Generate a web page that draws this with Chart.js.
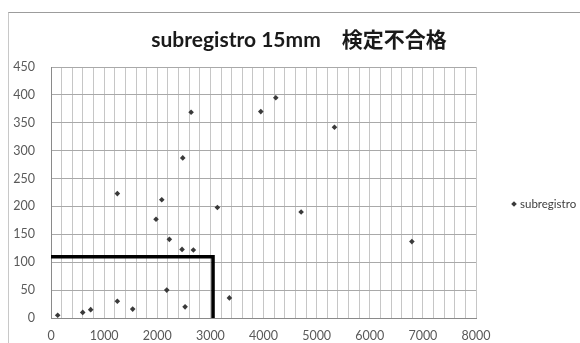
<!DOCTYPE html>
<html>
<head>
<meta charset="utf-8">
<script src="https://cdn.jsdelivr.net/npm/chart.js@4/dist/chart.umd.min.js"></script>
<style>
  html, body { margin: 0; padding: 0; background: #ffffff; }
  #wrap { position: relative; width: 580px; height: 343px; overflow: hidden; }
  #frame { position: absolute; left: 8px; top: 12px; width: 640px; height: 420px;
           border-top: 1px solid #9c9c9c; border-left: 1px solid #c8c8c8; }
  canvas { position: absolute; left: 0; top: 0; }
</style>
</head>
<body>
<div id="wrap">
  <div id="frame"></div>
  <canvas id="c" width="580" height="343"></canvas>
</div>
<script>
// Chart text
const chartTitle = 'subregistro 15mm\u3000検定不合格';
const seriesName = 'subregistro';

// Measured readings (x, y)
const readingsX = [126, 597, 747, 1249, 1538, 1249, 1977, 2085, 2179, 2228, 2467, 2524, 2480, 2637, 2680, 3132, 3358, 3949, 4231, 4708, 5336, 6793];
const readingsY = [5, 10, 15, 30, 16, 223, 177, 212, 50, 141, 123, 20, 287, 369, 122, 198, 36, 370, 395, 190, 342, 137];

// Acceptance limit outline (L-shaped boundary)
const limitX = [0, 3050, 3050];
const limitY = [110, 110, 0];

// Axis tick labels
const xTickValues = [0, 1000, 2000, 3000, 4000, 5000, 6000, 7000, 8000];
const yTickValues = [0, 50, 100, 150, 200, 250, 300, 350, 400, 450];

const tickFont = { family: 'Lato, "Open Sans", sans-serif', size: 12.5 };

const readings = readingsX.map((x, i) => ({ x: x, y: readingsY[i] }));
const limitLine = limitX.map((x, i) => ({ x: x, y: limitY[i] }));

// Title and legend text drawn on the canvas
const decorPlugin = {
  id: 'decor',
  afterDraw(chart) {
    const ctx = chart.ctx;
    ctx.save();
    ctx.fillStyle = '#1a1a1a';
    ctx.font = 'bold 21px Lato, "Noto Sans CJK JP", sans-serif';
    ctx.textAlign = 'center';
    ctx.textBaseline = 'middle';
    ctx.fillText(chartTitle, 299, 40);

    const ds = chart.data.datasets[0];
    const lx = 514, ly = 204;
    ctx.fillStyle = ds.backgroundColor;
    Chart.helpers.drawPoint(ctx, {
      pointStyle: ds.pointStyle, radius: ds.pointRadius, borderWidth: 0, rotation: 0
    }, lx, ly);
    ctx.fillStyle = '#404040';
    ctx.font = '11.5px Lato, "Open Sans", sans-serif';
    ctx.textAlign = 'left';
    ctx.fillText(seriesName, 520, ly);
    ctx.restore();
  }
};

new Chart(document.getElementById('c'), {
  data: {
    datasets: [
      {
        type: 'scatter',
        label: seriesName,
        data: readings,
        pointStyle: 'rectRot',
        pointRadius: 2.8,
        pointHoverRadius: 2.8,
        backgroundColor: '#3a3a3a',
        borderColor: '#3a3a3a',
        borderWidth: 0
      },
      {
        type: 'line',
        label: 'limit',
        data: limitLine,
        borderColor: '#000000',
        borderWidth: 3.5,
        pointRadius: 0,
        fill: false,
        tension: 0,
        clip: false
      }
    ]
  },
  options: {
    responsive: false,
    devicePixelRatio: 1,
    animation: false,
    layout: { padding: { left: 0, right: 104, top: 67, bottom: 0 } },
    plugins: {
      legend: { display: false },
      title: { display: false },
      tooltip: { enabled: false }
    },
    scales: {
      x: {
        type: 'linear',
        min: 0,
        max: 8000,
        afterFit(scale) { scale.height = 25; },
        ticks: {
          stepSize: 200,
          autoSkip: false,
          maxRotation: 0,
          padding: 10,
          color: '#595959',
          font: tickFont,
          callback: (v) => xTickValues.includes(v) ? String(v) : ''
        },
        grid: { color: '#c6c6c6', lineWidth: 1, drawTicks: false },
        border: { color: '#8a8a8a', width: 1 }
      },
      y: {
        type: 'linear',
        min: 0,
        max: 450,
        afterFit(scale) { scale.width = 51; },
        ticks: {
          stepSize: 50,
          padding: 16,
          color: '#595959',
          font: tickFont,
          callback: (v) => yTickValues.includes(v) ? String(v) : ''
        },
        grid: { color: '#a9a9a9', lineWidth: 1, drawTicks: false },
        border: { color: '#8a8a8a', width: 1 }
      }
    }
  },
  plugins: [decorPlugin]
});
</script>
</body>
</html>
